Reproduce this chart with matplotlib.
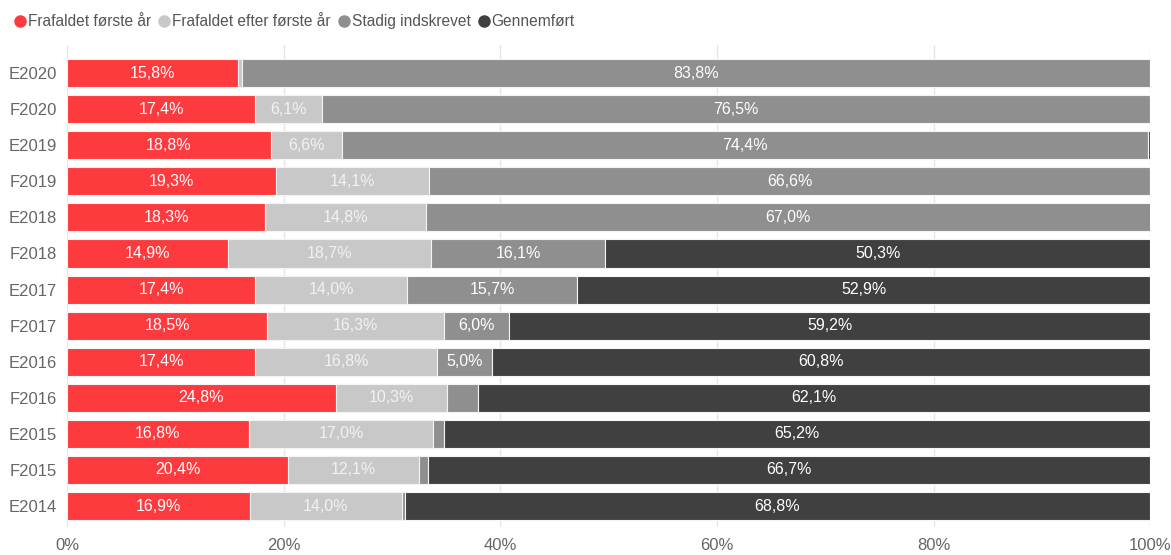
import matplotlib
matplotlib.use("Agg")
import matplotlib.pyplot as plt
from matplotlib.lines import Line2D
import numpy as np

plt.rcParams['font.family'] = ['Liberation Sans', 'DejaVu Sans']

# Data (percent)
cohorts = ["E2020", "F2020", "E2019", "F2019", "E2018", "F2018", "E2017",
           "F2017", "E2016", "F2016", "E2015", "F2015", "E2014"]
frafald_foerste = [15.8, 17.4, 18.8, 19.3, 18.3, 14.9, 17.4, 18.5, 17.4, 24.8, 16.8, 20.4, 16.9]
frafald_efter = [0.4, 6.1, 6.6, 14.1, 14.8, 18.7, 14.0, 16.3, 16.8, 10.3, 17.0, 12.1, 14.0]
stadig = [83.8, 76.5, 74.4, 66.6, 67.0, 16.1, 15.7, 6.0, 5.0, 2.8, 1.0, 0.8, 0.3]
gennemfoert = [0.0, 0.0, 0.2, 0.0, 0.0, 50.3, 52.9, 59.2, 60.8, 62.1, 65.2, 66.7, 68.8]

series = [
    ("Frafaldet første år", frafald_foerste, "#fd3a3e", "white"),
    ("Frafaldet efter første år", frafald_efter, "#c8c8c8", "#f2f2f2"),
    ("Stadig indskrevet", stadig, "#8f8f8f", "white"),
    ("Gennemført", gennemfoert, "#404040", "white"),
]

fig = plt.figure(figsize=(11.71, 5.55), dpi=100)
ax = fig.add_axes([0.0572, 0.0505, 0.9250, 0.8685])

y = np.arange(len(cohorts))
left = np.zeros(len(cohorts))
for name, vals, color, tcolor in series:
    vals = np.array(vals)
    ax.barh(y, vals, left=left, height=0.78, color=color,
            edgecolor="#f4f4f4", linewidth=0.8, zorder=3)
    for i, v in enumerate(vals):
        if v >= 4:
            ax.text(left[i] + v / 2, y[i], f"{v:.1f}%".replace(".", ","),
                    ha="center", va="center", color=tcolor, fontsize=11.5, zorder=4)
    left += vals

ax.set_xlim(0, 100)
ax.set_ylim(12.58, -0.78)
ax.set_yticks(y)
ax.set_yticklabels(cohorts)
ax.set_xticks([0, 20, 40, 60, 80, 100])
ax.set_xticklabels(["0%", "20%", "40%", "60%", "80%", "100%"])
ax.tick_params(axis="both", length=0, labelsize=12, colors="#666666")
ax.tick_params(axis="y", pad=7)
ax.tick_params(axis="x", pad=8)
ax.grid(axis="x", color="#e6e6e6", linewidth=1, zorder=0)
for s in ax.spines.values():
    s.set_visible(False)

handles = [Line2D([], [], marker="o", linestyle="none", markersize=8,
                  markerfacecolor=c, markeredgecolor=c) for _, _, c, _ in series]
fig.legend(handles, [n for n, _, _, _ in series], loc="upper left",
           bbox_to_anchor=(0.0, 1.0), ncol=4, frameon=False,
           handletextpad=0.1, columnspacing=0.45, handlelength=0.8,
           fontsize=11.2, labelcolor="#555555")

fig.savefig("out.png", dpi=100)
